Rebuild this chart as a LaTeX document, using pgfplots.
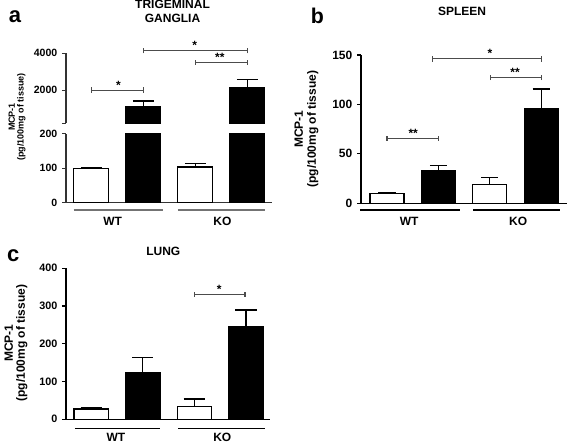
\documentclass[border=0pt]{standalone}
\usepackage{fontspec}
\setmainfont{Liberation Sans}
\usepackage{pgfplots}
\pgfplotsset{compat=1.18}
\definecolor{brkc}{gray}{0.3}
\pgfplotsset{
  panel/.style={
    scale only axis, anchor=south west,
    axis line style={-, line width=0.9pt},
    major tick length=3pt, tick align=outside,
    tick style={line width=0.9pt, black},
    xtick=\empty, ytick pos=left,
    clip mode=individual,
    ybar, bar shift=0pt,
    scaled y ticks=false,
    /pgf/number format/assume math mode=true,
    /pgf/number format/1000 sep={},
  },
  wbar/.style={draw=black, fill=white, line width=0.9pt,
    error bars/y dir=plus, error bars/y explicit,
    error bars/error bar style={line width=0.9pt, black},
    error bars/error mark options={rotate=90, line width=0.9pt, black, mark size=#1}},
  bbar/.style={draw=black, fill=black, line width=0.9pt,
    error bars/y dir=plus, error bars/y explicit,
    error bars/error bar style={line width=0.9pt, black},
    error bars/error mark options={rotate=90, line width=0.9pt, black, mark size=#1}},
  bplain/.style={draw=black, fill=black, line width=0.9pt},
}
% x1, x2, y, xmid, text
\newcommand{\sig}[5]{%
  \draw[line width=0.8pt, draw=brkc] (axis cs:#1,#3) ++(0pt,-2pt) -- ++(0pt,4pt);
  \draw[line width=0.8pt, draw=brkc] (axis cs:#2,#3) ++(0pt,-2pt) -- ++(0pt,4pt);
  \draw[line width=0.8pt, draw=brkc] (axis cs:#1,#3) -- (axis cs:#2,#3);
  \node[anchor=base, inner sep=0pt, yshift=0.8pt, font=\bfseries\fontsize{9}{10}\selectfont] at (axis cs:#4,#3) {#5};
}
\begin{document}
\begin{tikzpicture}
\path[use as bounding box] (0,0) rectangle (425.25pt,332.25pt);

% ---------- Panel a : lower segment ----------
\begin{axis}[panel, at={(49.5pt,180.2pt)}, width=154.3pt, height=51.9pt,
  xmin=-0.4865, xmax=3.469, ymin=0, ymax=200, ytick={0,100,200},
  axis x line*=bottom, axis y line*=left, bar width=0.673,
  axis line style={draw=black!80}, tick style={draw=black!80},
  yticklabel style={font=\bfseries\fontsize{7.9}{9}\selectfont}]
\addplot[wbar=7.9pt] coordinates {(0,99) +- (0,3) (2,103) +- (0,10)};
\addplot[bplain] coordinates {(1,1101) (3,2154)};
\draw[line width=0.9pt, black!55] (axis cs:-0.333,-21.1) -- (axis cs:1.379,-21.1);
\draw[line width=0.9pt, black!55] (axis cs:1.667,-21.1) -- (axis cs:3.340,-21.1);
\node[font=\bfseries\fontsize{9}{10}\selectfont, inner sep=0pt] at (axis cs:0.41,-54.9) {WT};
\node[font=\bfseries\fontsize{9}{10}\selectfont, inner sep=0pt] at (axis cs:2.52,-54.9) {KO};
\end{axis}

% ---------- Panel a : upper segment ----------
\begin{axis}[panel, at={(49.5pt,239.8pt)}, width=154.3pt, height=52.5pt,
  xmin=-0.4865, xmax=3.469, ymin=200, ymax=4000,
  ytick={200,2000,4000}, yticklabels={,2000,4000},
  axis x line=none, axis y line*=left, bar width=0.673,
  axis line style={draw=black!80}, tick style={draw=black!80},
  yticklabel style={font=\bfseries\fontsize{7.9}{9}\selectfont}]
\addplot[bbar=7.9pt] coordinates {(1,1101) +- (0,310) (3,2154) +- (0,435)};
\sig{0}{1}{2000}{0.52}{*}
\sig{1}{3}{4141}{1.99}{*}
\sig{2.01}{3}{3512}{2.47}{**}
\end{axis}

% ---------- Panel b ----------
\begin{axis}[panel, at={(270.75pt,179.8pt)}, width=154.3pt, height=111.2pt,
  xmin=-0.506, xmax=3.496, ymin=0, ymax=150, ytick={0,50,100,150},
  axis x line*=bottom, axis y line*=left, bar width=0.661,
  yticklabel style={font=\bfseries\fontsize{9}{10}\selectfont}]
\addplot[wbar=6.4pt] coordinates {(0,10.1) +- (0,0.6) (2,19.2) +- (0,6.7)};
\addplot[bbar=6.4pt] coordinates {(1,33) +- (0,5.4) (3,95.7) +- (0,19.9)};
\sig{0}{1}{65.7}{0.51}{**}
\sig{0.876}{3}{146}{2.0}{*}
\sig{2.02}{3}{127.4}{2.49}{**}
\draw[line width=0.9pt] (axis cs:-0.525,-6.8) -- (axis cs:1.42,-6.8);
\draw[line width=0.9pt] (axis cs:1.673,-6.8) -- (axis cs:3.366,-6.8);
\node[font=\bfseries\fontsize{9}{10}\selectfont, inner sep=0pt] at (axis cs:0.43,-18.6) {WT};
\node[font=\bfseries\fontsize{9}{10}\selectfont, inner sep=0pt] at (axis cs:2.55,-18.6) {KO};
\end{axis}

% ---------- Panel c ----------
\begin{axis}[panel, at={(49.5pt,17.8pt)}, width=153pt, height=113.25pt,
  xmin=-0.488, xmax=3.465, ymin=0, ymax=400, ytick={0,100,200,300,400},
  axis x line*=bottom, axis y line*=left, bar width=0.669,
  yticklabel style={font=\bfseries\fontsize{8.1}{9}\selectfont}]
\addplot[wbar=8pt] coordinates {(0,27.3) +- (0,2.7) (2,33.4) +- (0,20.4)};
\addplot[bbar=8pt] coordinates {(1,124.5) +- (0,38.5) (3,245.3) +- (0,44.2)};
\sig{2}{2.98}{331}{2.48}{*}
\draw[line width=0.9pt] (axis cs:-0.314,-23.8) -- (axis cs:1.334,-23.8);
\draw[line width=0.9pt] (axis cs:1.688,-23.8) -- (axis cs:3.368,-23.8);
\node[font=\bfseries\fontsize{9}{10}\selectfont, inner sep=0pt] at (axis cs:0.48,-49) {WT};
\node[font=\bfseries\fontsize{9}{10}\selectfont, inner sep=0pt] at (axis cs:2.54,-49) {KO};
\end{axis}

% ---------- titles, panel letters, y labels ----------
\node[font=\bfseries\fontsize{9}{10.5}\selectfont, align=center, inner sep=0pt] at (129.4pt,323.8pt) {TRIGEMINAL\\GANGLIA};
\node[font=\bfseries\fontsize{9}{10}\selectfont, inner sep=0pt] at (346.5pt,323.5pt) {SPLEEN};
\node[font=\bfseries\fontsize{9}{10}\selectfont, inner sep=0pt] at (122.5pt,143.5pt) {LUNG};
\node[font=\bfseries\fontsize{16.5}{18}\selectfont, inner sep=0pt] at (11.25pt,319.9pt) {a};
\node[font=\bfseries\fontsize{16}{18}\selectfont, inner sep=0pt] at (238.1pt,320.4pt) {b};
\node[font=\bfseries\fontsize{16.5}{18}\selectfont, inner sep=0pt] at (10pt,140.4pt) {c};
\node[rotate=90, align=center, inner sep=0pt, font=\bfseries\fontsize{6.75}{6.6}\selectfont] at (12.75pt,244.5pt) {MCP-1\\(pg/100mg of tissue)};
\node[rotate=90, align=center, inner sep=0pt, font=\bfseries\fontsize{9}{9.75}\selectfont] at (229.9pt,235.5pt) {MCP-1\\(pg/100mg of tissue)};
\node[rotate=90, align=center, inner sep=0pt, font=\bfseries\fontsize{9}{9}\selectfont] at (12pt,75pt) {MCP-1\\(pg/100mg of tissue)};
\end{tikzpicture}
\end{document}
